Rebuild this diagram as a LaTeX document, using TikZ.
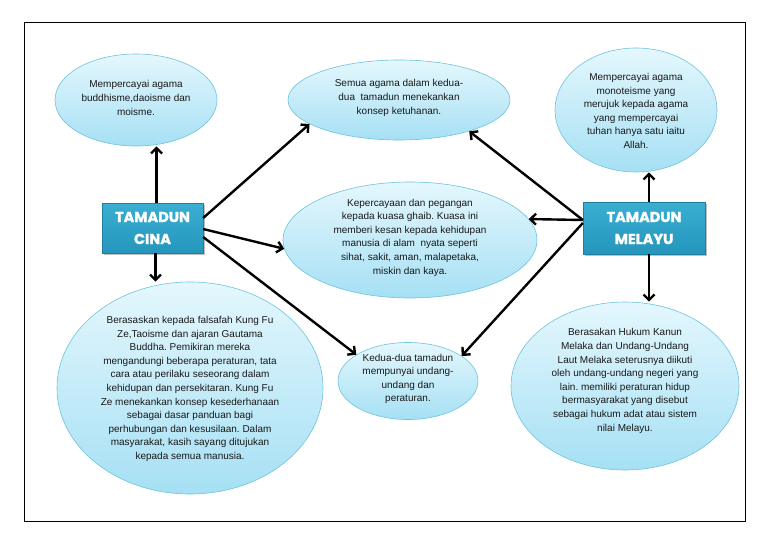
\documentclass[tikz,border=0pt]{standalone}
\usepackage{fontspec}
\setmainfont{Liberation Sans}
\newfontfamily\boxfont{Poppins}[FakeBold=1.2]
\usetikzlibrary{shapes.geometric,arrows.meta,shadows}
\definecolor{elltop}{HTML}{E4F7FD}
\definecolor{ellbot}{HTML}{A6E0F4}
\definecolor{ellline}{HTML}{6EC3DD}
\definecolor{boxtop}{HTML}{3AAFD2}
\definecolor{boxbot}{HTML}{2595BC}
\frenchspacing
\begin{document}
\begin{tikzpicture}[x=1pt,y=-1pt,
  bubble/.style={ellipse,draw=ellline,line width=0.6pt,top color=elltop,bottom color=ellbot,inner sep=0pt},
  txt/.style={align=center,font=\fontsize{10}{13.6}\selectfont,text=black!90},
  civ/.style={rectangle,top color=boxtop,bottom color=boxbot,draw=boxbot!85!black,line width=0.3pt,
    drop shadow={shadow xshift=1.5pt,shadow yshift=-2pt,opacity=0.5},
    text=white,align=center,font=\boxfont\bfseries\fontsize{14.5}{22}\selectfont,inner sep=0pt},
  arr/.style={line width=2.4pt,-{Straight Barb[length=5.5pt,width=11pt]}}]
\useasboundingbox (0,0) rectangle (768,543);
\fill[white] (0,0) rectangle (768,543);
\draw[line width=0.7pt] (24,22) rectangle (745,521);

\node[bubble,minimum width=162pt,minimum height=92pt] (tl) at (136,100) {};
\node[txt] (tltxt) at (136,98) {Mempercayai agama\\buddhisme,daoisme dan\\moisme.};

\node[bubble,minimum width=222pt,minimum height=80pt] (tm) at (399,100) {};
\node[txt] (tmtxt) at (399,98) {Semua agama dalam kedua-\\dua\ \ tamadun menekankan\\konsep ketuhanan.};

\node[bubble,minimum width=162pt,minimum height=124pt] (tr) at (636,110) {};
\node[txt] (trtxt) at (636,111) {Mempercayai agama\\monoteisme yang\\merujuk kepada agama\\yang mempercayai\\tuhan hanya satu iaitu\\Allah.};

\node[bubble,minimum width=254pt,minimum height=116pt] (mid) at (410,240) {};
\node[txt] (midtxt) at (410,237.5) {Kepercayaan dan pegangan\\kepada kuasa ghaib. Kuasa ini\\memberi kesan kepada kehidupan\\manusia di alam\ \ nyata seperti\\sihat, sakit, aman, malapetaka,\\miskin dan kaya.};

\node[bubble,minimum width=266pt,minimum height=212pt] (bl) at (190,388) {};
\node[txt] (bltxt) at (190,389) {Berasaskan kepada falsafah Kung Fu\\Ze,Taoisme dan ajaran Gautama\\Buddha. Pemikiran mereka\\mengandungi beberapa peraturan, tata\\cara atau perilaku seseorang dalam\\kehidupan dan persekitaran. Kung Fu\\Ze menekankan konsep kesederhanaan\\sebagai dasar panduan bagi\\perhubungan dan kesusilaan. Dalam\\masyarakat, kasih sayang ditujukan\\kepada semua manusia.};

\node[bubble,minimum width=228pt,minimum height=168pt] (br) at (625,386) {};
\node[txt] (brtxt) at (625,381) {Berasakan Hukum Kanun\\Melaka dan Undang-Undang\\Laut Melaka seterusnya diikuti\\oleh undang-undang negeri yang\\lain. memiliki peraturan hidup\\bermasyarakat yang disebut\\sebagai hukum adat atau sistem\\nilai Melayu.};

\node[bubble,minimum width=140pt,minimum height=77pt] (bk) at (408,381) {};
\node[txt] (bktxt) at (408,379) {Kedua-dua tamadun\\mempunyai undang-\\undang dan\\peraturan.};

\node[civ,minimum width=101pt,minimum height=50pt] (cina) at (152.5,228) {TAMADUN\\CINA};
\node[civ,minimum width=122pt,minimum height=52pt] (melayu) at (644,228) {TAMADUN\\MELAYU};

\draw[arr] ([xshift=4pt]cina.north) -- ([xshift=4pt]cina.north |- tl.south);
\draw[arr] ([xshift=3pt]cina.south) -- ([xshift=3pt]cina.south |- bl.north);
\draw[arr] ([yshift=10pt]cina.east) -- (tm.195);
\draw[arr] ([yshift=-1pt]cina.east) -- (mid.184);
\draw[arr] ([yshift=-9pt]cina.east) -- (bk.153);

\draw[arr] ([xshift=5pt]melayu.north) -- ([xshift=5pt]melayu.north |- tr.south);
\draw[arr] ([xshift=5pt]melayu.south) -- ([xshift=5pt]melayu.south |- br.north);
\draw[arr] ([yshift=8pt]melayu.west) -- (tm.336);
\draw[arr] ([yshift=8pt]melayu.west) -- (mid.10);
\draw[arr] ([yshift=5pt]melayu.west) -- (bk.25);
\end{tikzpicture}
\end{document}
